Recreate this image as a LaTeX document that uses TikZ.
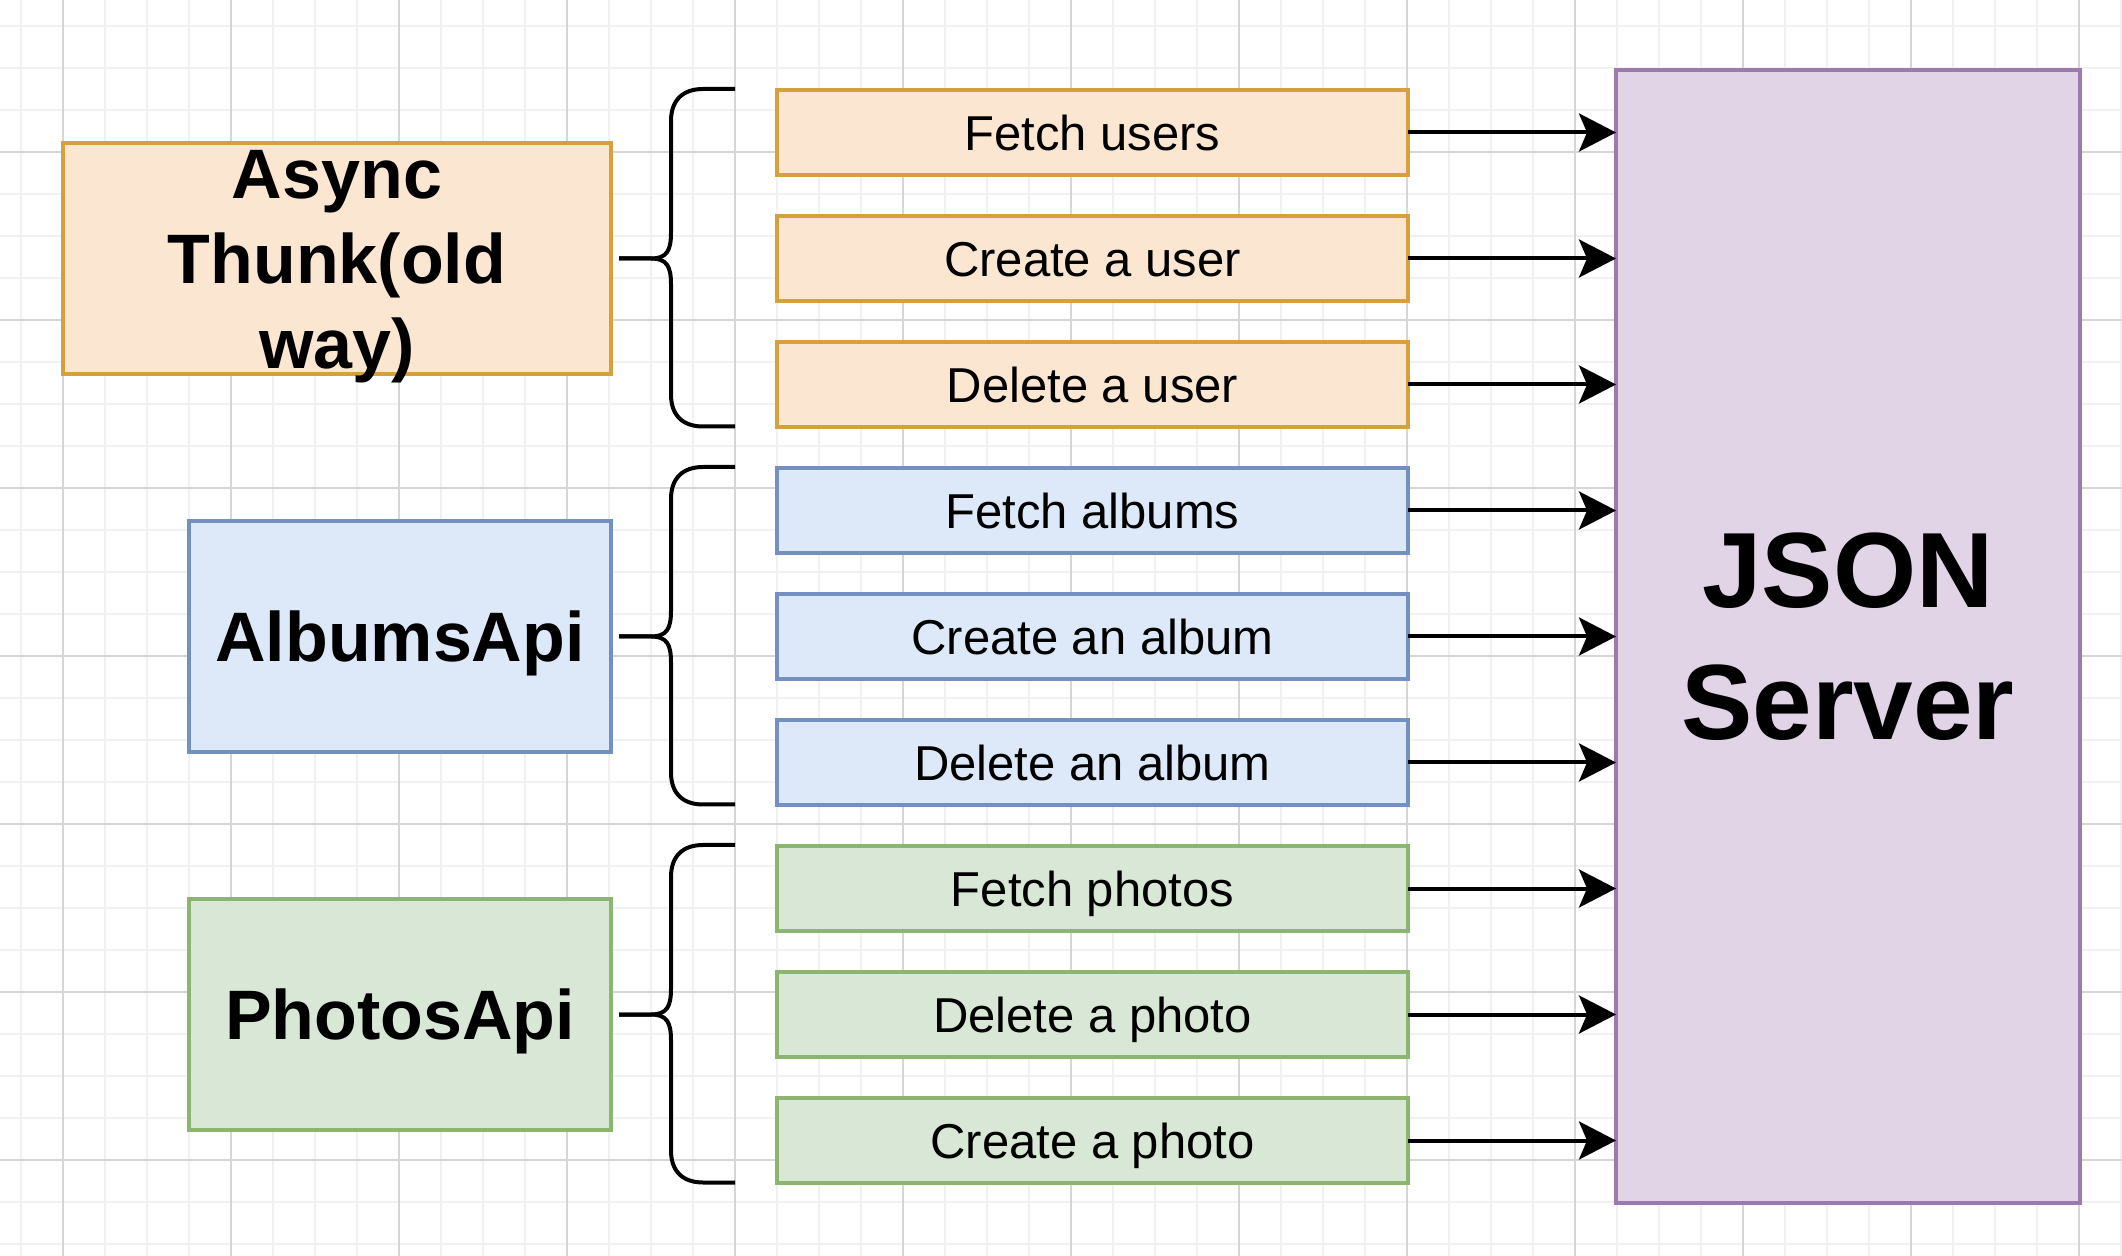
\documentclass[tikz,border=0pt]{standalone}
\usepackage{fontspec}
\setmainfont{Liberation Sans}
\usetikzlibrary{arrows.meta}
\definecolor{ofill}{HTML}{FBE6D1}
\definecolor{ostroke}{HTML}{D6A13C}
\definecolor{bfill}{HTML}{DDE8F9}
\definecolor{bstroke}{HTML}{7490C0}
\definecolor{gfill}{HTML}{D9E7D6}
\definecolor{gstroke}{HTML}{8CB56F}
\definecolor{pfill}{HTML}{E1D4E6}
\definecolor{pstroke}{HTML}{9B7BAD}
\definecolor{gridminor}{HTML}{F1F1F1}
\definecolor{gridmajor}{HTML}{D6D6D6}
\newcommand\drawbrace[3]{%
  \draw[bracestyle] (735,#1) -- (703,#1) .. controls (684,#1) and (671,{#1+10}) .. (671,{#1+32})
    -- (671,{#2-26}) .. controls (671,{#2-8}) and (667,#2) .. (651,#2) -- (619,#2);
  \draw[bracestyle] (619,#2) -- (651,#2) .. controls (667,#2) and (671,{#2+8}) .. (671,{#2+26})
    -- (671,{#3-32}) .. controls (671,{#3-10}) and (684,#3) .. (703,#3) -- (735,#3);}
\begin{document}
\begin{tikzpicture}[x=0.5pt,y=-0.5pt,
  box/.style={draw, line width=2pt, inner sep=0pt, outer sep=0pt, text depth=0pt},
  item/.style={box, minimum width=315.5pt, minimum height=42.5pt, text height=17.54pt, font=\fontsize{24.5}{29.4}\selectfont},
  grp/.style={box, minimum height=115.5pt, text height=25.06pt, font=\fontsize{35}{42.5}\selectfont\bfseries},
  orange/.style={fill=ofill, draw=ostroke},
  blue/.style={fill=bfill, draw=bstroke},
  green/.style={fill=gfill, draw=gstroke},
  conn/.style={line width=2pt, -{Stealth[length=18.5pt, width=19pt, inset=4pt]}},
  bracestyle/.style={line width=2pt, line join=round},
  minorline/.style={gridminor, line width=1pt},
  majorline/.style={gridmajor, line width=1pt}
]
\fill[white] (0,0) rectangle (2122,1256);
\useasboundingbox (0,0) rectangle (2122,1256);
% grid
\foreach \x in {21,63,...,2121} \draw[minorline] (\x,0) -- (\x,1256);
\foreach \y in {26,68,...,1256} \draw[minorline] (0,\y) -- (2122,\y);
\foreach \x in {63,231,...,2079} \draw[majorline] (\x,0) -- (\x,1256);
\foreach \y in {152,320,...,1160} \draw[majorline] (0,\y) -- (2122,\y);

% group boxes
\node[grp, orange, minimum width=274pt] (async) at (337,258.5) {};
\node[font=\fontsize{35}{42.5}\selectfont\bfseries, align=center, inner sep=0pt] (asynctxt) at (337,266.3) {Async\\Thunk(old\\way)};
\node[grp, blue, minimum width=211pt] (albums) at (400,636.5) {AlbumsApi};
\node[grp, green, minimum width=211pt] (photos) at (400,1014.5) {PhotosApi};

% JSON server
\node[draw=pstroke, fill=pfill, line width=2pt, inner sep=0pt, outer sep=0pt,
      minimum width=232pt, minimum height=566.5pt, align=center,
      font=\fontsize{53.5}{66}\selectfont\bfseries] (json) at (1848,636.5) {JSON\\Server};

% items
\node[item, orange] (u1) at (1092.5,132.5) {Fetch users};
\node[item, orange] (u2) at (1092.5,258.5) {Create a user};
\node[item, orange] (u3) at (1092.5,384.5) {Delete a user};
\node[item, blue] (a1) at (1092.5,510.5) {Fetch albums};
\node[item, blue] (a2) at (1092.5,636.5) {Create an album};
\node[item, blue] (a3) at (1092.5,762.5) {Delete an album};
\node[item, green] (p1) at (1092.5,888.5) {Fetch photos};
\node[item, green] (p2) at (1092.5,1014.5) {Delete a photo};
\node[item, green] (p3) at (1092.5,1140.5) {Create a photo};

% braces
\drawbrace{89}{258.5}{426.5}
\drawbrace{467}{636.5}{804.5}
\drawbrace{845}{1014.5}{1182.5}

% arrows
\foreach \n in {u1,u2,u3,a1,a2,a3,p1,p2,p3}
  \draw[conn] (\n.east) -- (\n.east -| json.west);
\end{tikzpicture}
\end{document}
